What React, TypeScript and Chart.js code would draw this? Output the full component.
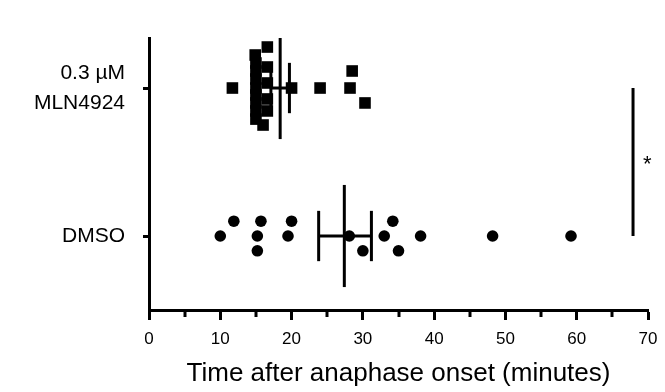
import React, { useEffect, useRef } from 'react';
import { Chart, registerables } from 'chart.js';
Chart.register(...registerables);

// ---- data ----
const groupRows = [1, 2];
const groupLabels: (string | string[])[] = ['DMSO', ['0.3 µM', 'MLN4924']];
const xMajorTicks = [0, 10, 20, 30, 40, 50, 60, 70];
const xMinorTicks = [5, 15, 25, 35, 45, 55, 65];

const dmsoTimes = [10.0, 11.9, 15.2, 15.7, 15.2, 20.0, 19.5, 28.1, 30.0, 33.0, 34.2, 35.0, 38.1, 48.2, 59.2];
const dmsoJitter = [0, 0.1, 0, 0.1, -0.1, 0.1, 0, 0, -0.1, 0, 0.1, -0.1, 0, 0, 0];

const mlnTimes = [11.7, 14.9, 16.6, 15.0, 15.0, 15.0, 15.0, 15.0, 15.0, 15.0, 16.6, 16.6, 16.6, 16.6, 15.0, 16.0, 20.0, 24.0, 28.5, 28.2, 30.3];
const mlnJitter = [0, 0.223, 0.277, 0.169, 0.115, 0.061, 0, -0.047, -0.101, -0.155, 0.142, 0.034, -0.074, -0.155, -0.21, -0.25, 0, 0, 0.115, 0, -0.101];

const groupMeans = [27.4, 18.4];
const groupSemLow = [23.8, 17.1];
const groupSemHigh = [31.2, 19.7];
const meanHalfSpan = 0.345;
const capHalfSpan = 0.17;

const sigLineX = 67.9;
const sigStarX = 69.9;
const sigText = '*';

const FONT = "'Liberation Sans', Arial, Helvetica, sans-serif";

export default function App() {
  const ref = useRef<HTMLCanvasElement | null>(null);
  useEffect(() => {
    if (!ref.current) return;
    const black = '#000000';
    const lineDs = (pts: { x: number; y: number }[]) => ({
      type: 'line' as const,
      data: pts,
      borderColor: black,
      borderWidth: 3,
      pointRadius: 0,
      fill: false,
      showLine: true,
      borderCapStyle: 'butt' as const,
    });
    const lineSets: any[] = [];
    groupRows.forEach((row, i) => {
      const m = groupMeans[i];
      const lo = groupSemLow[i];
      const hi = groupSemHigh[i];
      lineSets.push(lineDs([{ x: m, y: row - meanHalfSpan }, { x: m, y: row + meanHalfSpan }]));
      lineSets.push(lineDs([{ x: lo, y: row }, { x: hi, y: row }]));
      lineSets.push(lineDs([{ x: lo, y: row - capHalfSpan }, { x: lo, y: row + capHalfSpan }]));
      lineSets.push(lineDs([{ x: hi, y: row - capHalfSpan }, { x: hi, y: row + capHalfSpan }]));
    });
    lineSets.push(lineDs([{ x: sigLineX, y: groupRows[0] }, { x: sigLineX, y: groupRows[1] }]));

    const extras = {
      id: 'extras',
      afterDraw(chart: any) {
        const ctx = chart.ctx;
        const xs = chart.scales.x;
        const ys = chart.scales.y;
        ctx.save();
        ctx.strokeStyle = black;
        ctx.lineWidth = 3;
        xMinorTicks.forEach((v) => {
          const px = Math.round(xs.getPixelForValue(v));
          ctx.beginPath();
          ctx.moveTo(px, xs.top);
          ctx.lineTo(px, xs.top + 7);
          ctx.stroke();
        });
        ctx.fillStyle = black;
        ctx.font = `22px ${FONT}`;
        ctx.textAlign = 'center';
        ctx.textBaseline = 'middle';
        ctx.fillText(sigText, xs.getPixelForValue(sigStarX), ys.getPixelForValue((groupRows[0] + groupRows[1]) / 2) + 3);
        ctx.restore();
      },
    };

    const chart = new Chart(ref.current, {
      type: 'scatter',
      data: {
        datasets: [
          ...lineSets,
          {
            data: mlnTimes.map((t, i) => ({ x: t, y: groupRows[1] + mlnJitter[i] })),
            pointStyle: 'rect',
            pointRadius: 8.2,
            backgroundColor: black,
            borderColor: black,
            borderWidth: 0,
          },
          {
            data: dmsoTimes.map((t, i) => ({ x: t, y: groupRows[0] + dmsoJitter[i] })),
            pointStyle: 'circle',
            pointRadius: 5.8,
            backgroundColor: black,
            borderColor: black,
            borderWidth: 0,
          },
        ],
      },
      options: {
        animation: false,
        responsive: false,
        events: [],
        layout: { padding: { left: 0, top: 38, right: 17, bottom: 0 } },
        plugins: { legend: { display: false }, tooltip: { enabled: false }, title: { display: false } },
        scales: {
          x: {
            type: 'linear',
            min: 0,
            max: 70,
            afterFit: (s: any) => { s.height = 82; s.paddingLeft = 0; s.paddingRight = 0; },
            afterBuildTicks: (s: any) => { s.ticks = xMajorTicks.map((v) => ({ value: v })); },
            ticks: { color: black, font: { family: FONT, size: 17 }, padding: 9, autoSkip: false, maxRotation: 0 },
            grid: { drawOnChartArea: false, drawTicks: true, tickLength: 10, tickColor: black, tickWidth: 3 },
            border: { display: true, color: black, width: 3 },
            title: { display: true, text: 'Time after anaphase onset (minutes)', color: black, font: { family: FONT, size: 26 }, padding: { top: 0, bottom: 3 } },
          },
          y: {
            type: 'linear',
            min: 0.5,
            max: 2.338,
            afterFit: (s: any) => { s.width = 149; s.paddingTop = 0; s.paddingBottom = 0; },
            afterBuildTicks: (s: any) => { s.ticks = groupRows.map((v) => ({ value: v })); },
            ticks: {
              color: black,
              font: { family: FONT, size: 21, lineHeight: 1.4 },
              padding: 18,
              callback: (v: any) => {
                const idx = groupRows.indexOf(Number(v));
                return idx >= 0 ? (groupLabels[idx] as any) : '';
              },
            },
            grid: { drawOnChartArea: false, drawTicks: true, tickLength: 6, tickColor: black, tickWidth: 3 },
            border: { display: true, color: black, width: 3 },
          },
        },
      },
      plugins: [extras],
    });
    return () => chart.destroy();
  }, []);
  return (
    <div style={{ position: 'absolute', left: 0, top: 0, width: 665, height: 392, background: '#fff' }}>
      <canvas ref={ref} width={665} height={392} style={{ display: 'block' }} />
    </div>
  );
}
